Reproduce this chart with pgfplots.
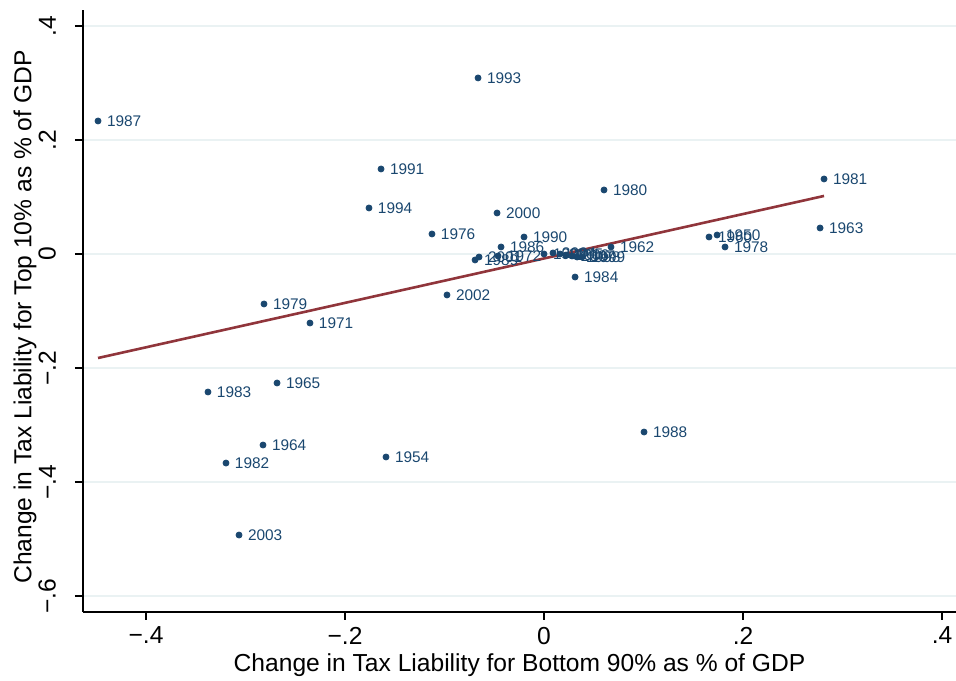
\documentclass[border=0pt]{standalone}
\usepackage{pgfplots}
\usepackage{pgfplotstable}
\usepackage{fontspec}
\setmainfont{Liberation Sans}
\pgfplotsset{compat=1.18}
\definecolor{stnavy}{HTML}{1A476F}
\definecolor{stred}{HTML}{90353B}
\definecolor{stgrid}{HTML}{EAF2F3}

% change in tax liability: bottom 90% (x) vs top 10% (y), share of GDP
\pgfplotstableread{
x y label
-0.4482 0.2333 1987
-0.0663 0.3088 1993
-0.1638 0.1491 1991
-0.1759 0.0807 1994
0.0603 0.1123 1980
0.2814 0.1316 1981
-0.0472 0.0719 2000
-0.1126 0.0351 1976
-0.0201 0.0298 1990
0.2774 0.0456 1963
0.1658 0.0298 1960
0.1739 0.0333 1950
0.1819 0.0123 1978
0.0673 0.0123 1962
-0.0432 0.0123 1986
0.0312 -0.0404 1984
-0.0975 -0.0719 2002
-0.0693 -0.0105 1989
-0.0653 -0.0053 2001
-0.0462 -0.0035 1972
0.0000 0.0000 1997
0.0090 0.0018 2004
0.0161 0.0000 2005
0.0221 -0.0018 2006
0.0281 -0.0035 2007
0.0332 -0.0053 1998
0.0382 -0.0053 1999
-0.2814 -0.0877 1979
-0.2352 -0.1211 1971
-0.2683 -0.2263 1965
-0.3377 -0.2421 1983
-0.2824 -0.3351 1964
-0.1588 -0.3561 1954
-0.3196 -0.3667 1982
0.1005 -0.3123 1988
-0.3065 -0.4930 2003
}\scatterdata

\begin{document}
\begin{tikzpicture}
\begin{axis}[
  name=ax,
  scale only axis,
  width=436.5pt, height=301pt,
  xmin=-0.4633, xmax=0.414,
  ymin=-0.628, ymax=0.428,
  axis lines*=left,
  axis line style={line width=0.75pt, black},
  tick align=outside,
  major tick length=4pt,
  tick style={line width=0.6pt, black},
  xtick={-0.4,-0.2,0,0.2,0.4},
  xticklabels={−.4,−.2,0,.2,.4},
  ytick={-0.6,-0.4,-0.2,0,0.2,0.4},
  yticklabels={−.6,−.4,−.2,0,.2,.4},
  ymajorgrids=true,
  grid style={stgrid, line width=1pt},
  tick label style={font=\fontsize{12.3}{14}\selectfont},
  yticklabel style={rotate=90, anchor=south},
  yticklabel shift=6pt,
  xlabel={Change in Tax Liability for Bottom 90\% as \% of GDP},
  ylabel={Change in Tax Liability for Top 10\% as \% of GDP},
  xlabel style={at={(axis description cs:0.5,-0.088)}, anchor=center,
    font=\fontsize{12.3}{14}\selectfont},
  ylabel style={at={(axis description cs:-0.0664,0.49)}, anchor=center, rotate=0,
    font=\fontsize{12.3}{14}\selectfont},
  clip=false,
]
\addplot[only marks, mark=*, mark size=1.5pt, stnavy,
  point meta=explicit symbolic,
  nodes near coords,
  nodes near coords style={anchor=west, inner sep=0pt, xshift=4.3pt,
    font=\fontsize{7.7}{9}\selectfont, text=stnavy}]
  table[x=x, y=y, meta=label] {\scatterdata};
\addplot[stred, line width=1.3pt] coordinates {(-0.4482,-0.1825) (0.2814,0.1018)};
\end{axis}
\pgfresetboundingbox
\path ([xshift=-41.5pt,yshift=-34.5pt]ax.south west) rectangle ([yshift=5pt]ax.north east);
\end{tikzpicture}
\end{document}
